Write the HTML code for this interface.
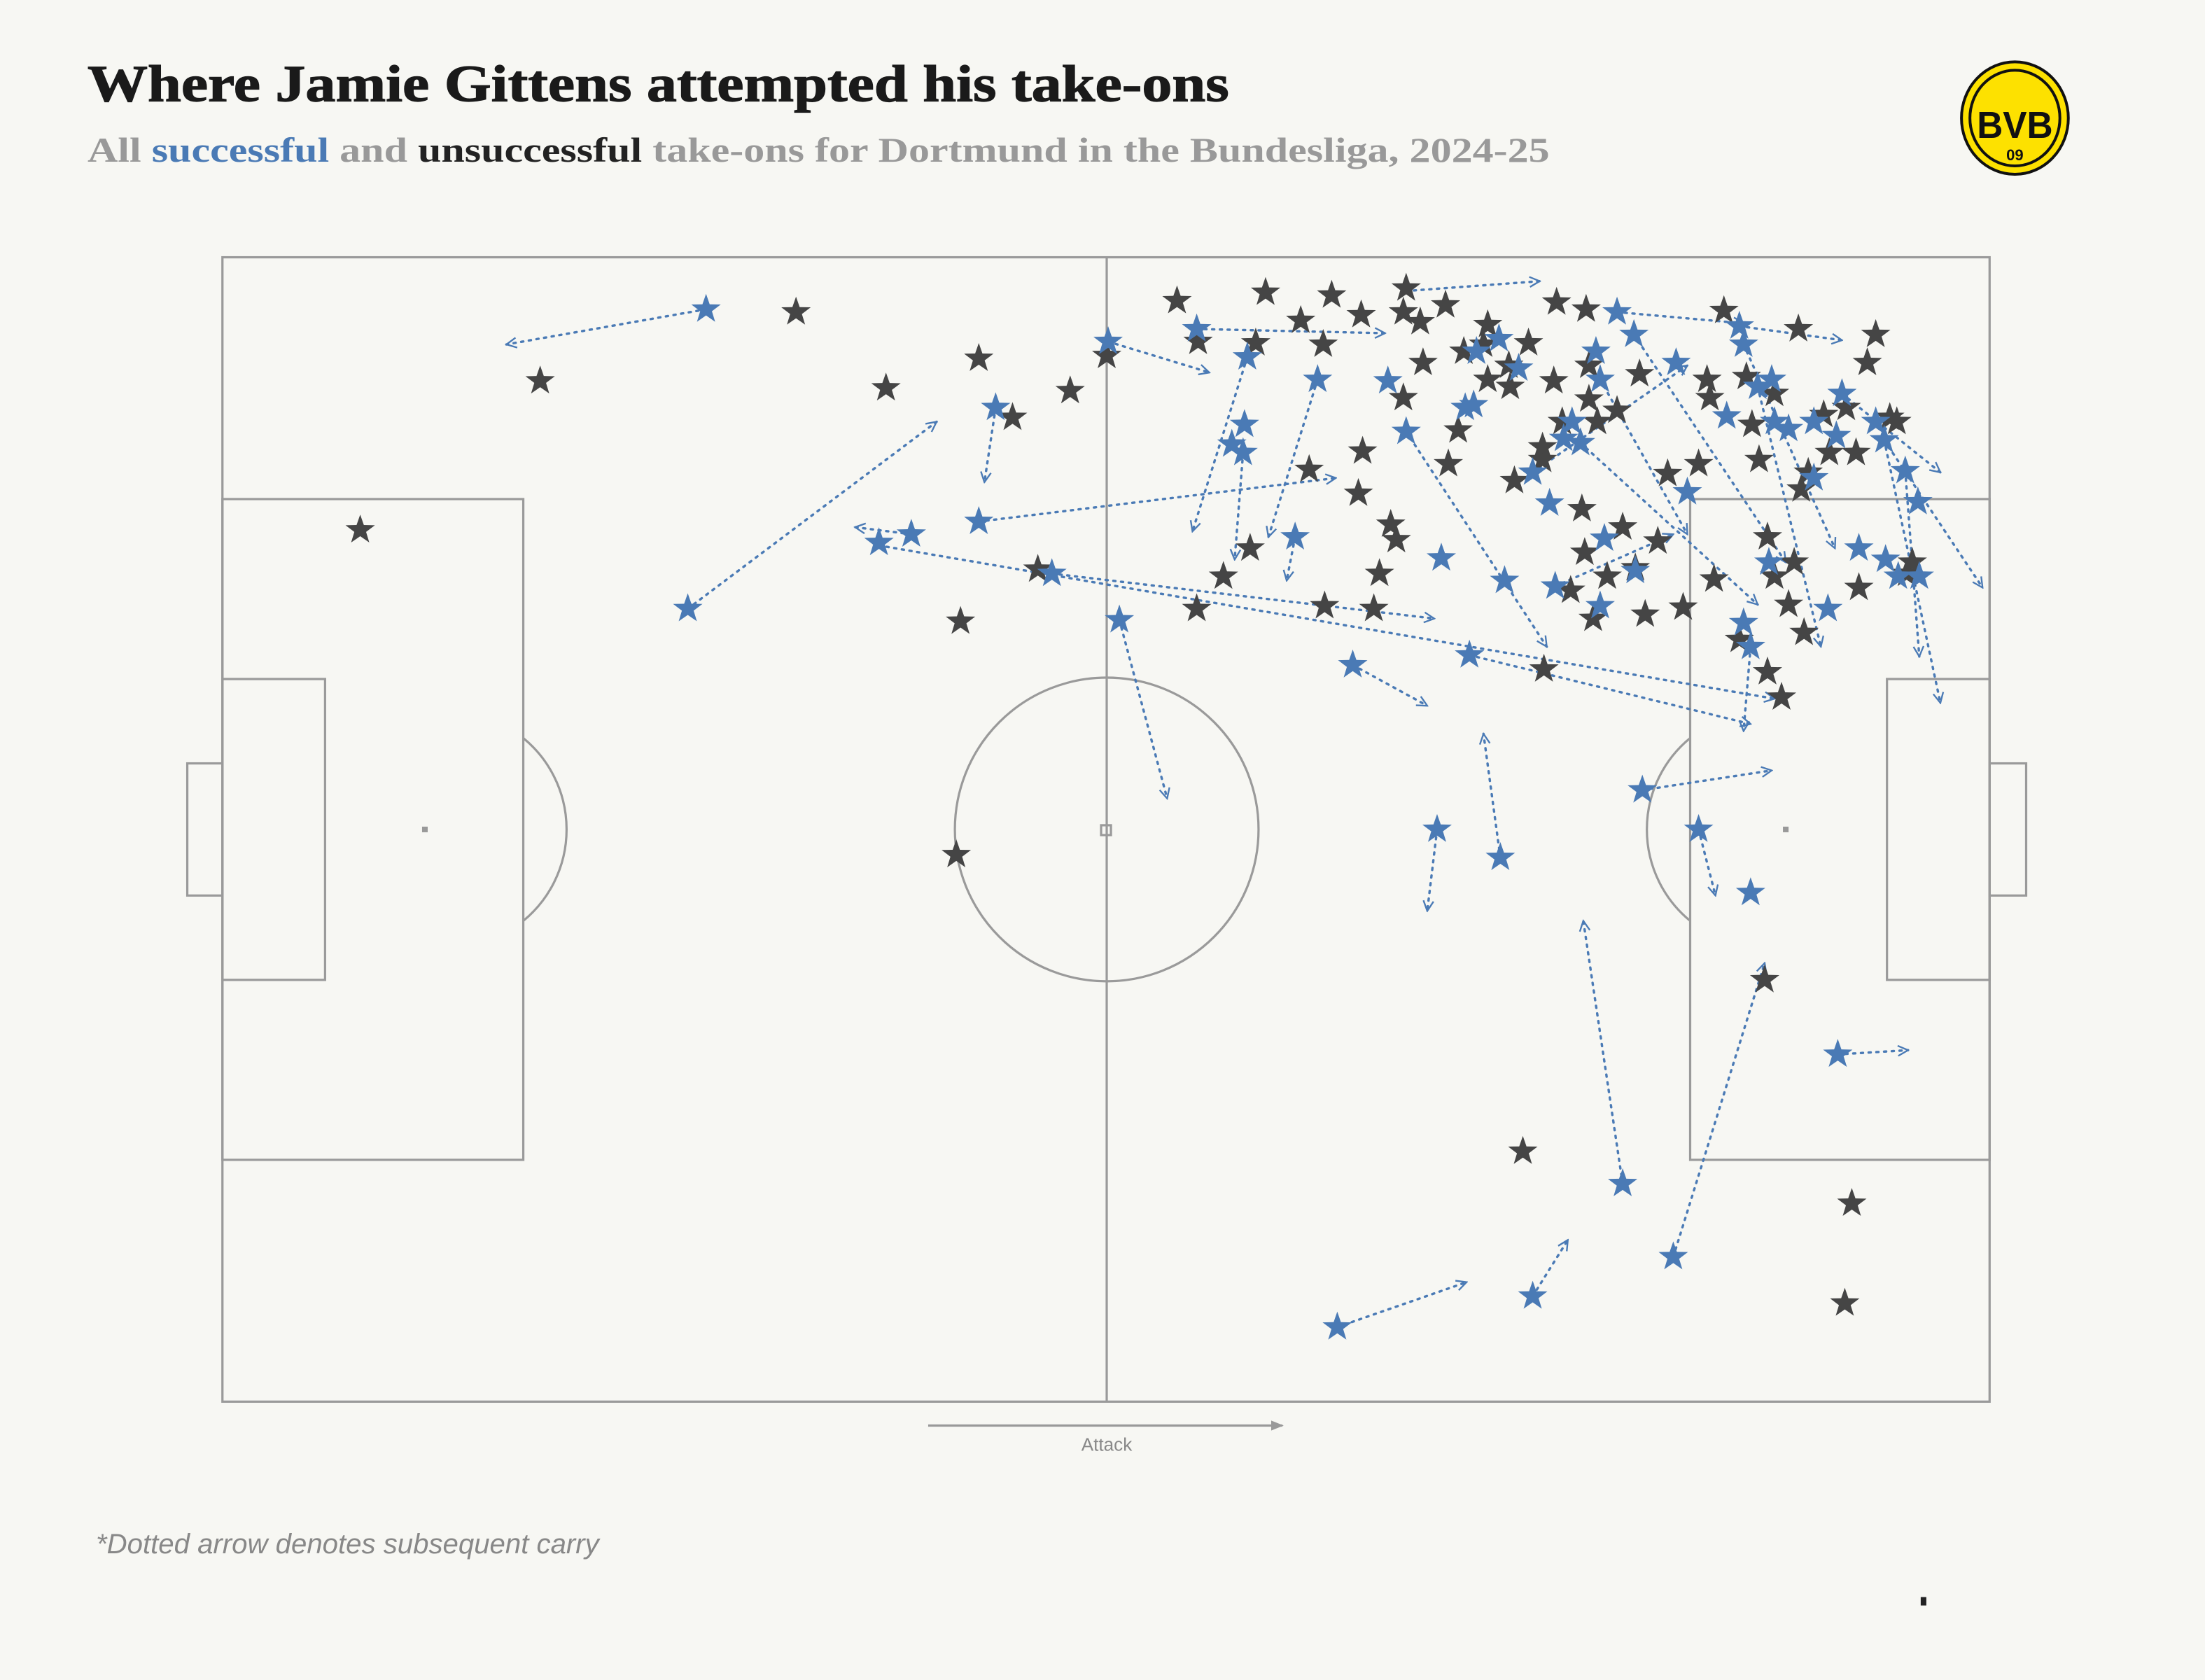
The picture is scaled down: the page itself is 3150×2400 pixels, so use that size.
<!DOCTYPE html>
<html><head><meta charset="utf-8">
<style>
html,body{margin:0;padding:0;background:#f7f7f3;}
svg{display:block;}
</style></head>
<body>
<svg id="s" width="3150" height="2400" viewBox="0 0 1568 1195" xmlns="http://www.w3.org/2000/svg">
<defs>
<path id="st" d="M0,-11 L2.59,-3.56 L10.46,-3.4 L4.18,1.36 L6.47,8.9 L0,4.4 L-6.47,8.9 L-4.18,1.36 L-10.46,-3.4 L-2.59,-3.56Z"/>
<marker id="ah" viewBox="0 0 10 10" refX="9" refY="5" markerWidth="9" markerHeight="9" markerUnits="userSpaceOnUse" orient="auto">
<path d="M1,1 L9,5 L1,9" fill="none" stroke="#4a7ab5" stroke-width="1.3"/>
</marker>
<marker id="ga" viewBox="0 0 10 10" refX="9" refY="5" markerWidth="9" markerHeight="9" markerUnits="userSpaceOnUse" orient="auto">
<path d="M0,1 L10,5 L0,9 Z" fill="#999"/>
</marker>
</defs>
<rect width="1568" height="1195" fill="#f7f7f3"/>
<text x="62" y="72" font-family="Liberation Serif, serif" font-weight="bold" font-size="37" fill="#1a1a1a" stroke="#1a1a1a" stroke-width="0.6" textLength="812" lengthAdjust="spacingAndGlyphs">Where Jamie Gittens attempted his take-ons</text>
<text x="62" y="115" font-family="Liberation Serif, serif" font-weight="bold" font-size="25" fill="#999" textLength="1040" lengthAdjust="spacingAndGlyphs">All <tspan fill="#4a7ab5">successful</tspan> and <tspan fill="#222">unsuccessful</tspan> take-ons for Dortmund in the Bundesliga, 2024-25</text>
<g>
<ellipse cx="1433" cy="84" rx="38" ry="40" fill="#fde100" stroke="#111" stroke-width="2"/>
<ellipse cx="1433" cy="84" rx="32" ry="34" fill="none" stroke="#111" stroke-width="2"/>
<text x="1433" y="98" text-anchor="middle" font-family="Liberation Sans, sans-serif" font-weight="bold" font-size="27" fill="#111" textLength="54" lengthAdjust="spacingAndGlyphs">BVB</text>
<text x="1433" y="114" text-anchor="middle" font-family="Liberation Sans, sans-serif" font-weight="bold" font-size="11" fill="#111">09</text>
</g>
<g fill="none" stroke="#9a9a9a" stroke-width="1.6">
<rect x="158" y="183" width="1257" height="814"/>
<line x1="787" y1="183" x2="787" y2="997"/>
<circle cx="787" cy="590" r="108"/>
<rect x="783" y="587" width="7" height="7"/>
<rect x="158" y="355" width="214" height="470"/>
<rect x="158" y="483" width="73" height="214"/>
<rect x="133" y="543" width="25" height="94"/>
<path d="M372,525 A84,84 0 0 1 372,655"/>
<rect x="1202" y="355" width="213" height="470"/>
<rect x="1342" y="483" width="73" height="214"/>
<rect x="1415" y="543" width="26" height="94"/>
<path d="M1202,525 A84,84 0 0 0 1202,655"/>
</g>
<rect x="300" y="588" width="4" height="4" fill="#999"/>
<rect x="1268" y="588" width="4" height="4" fill="#999"/>
<line x1="660" y1="1014" x2="912" y2="1014" stroke="#999" stroke-width="1.6" marker-end="url(#ga)"/>
<text x="787" y="1032" text-anchor="middle" font-family="Liberation Sans, sans-serif" font-size="13" fill="#888">Attack</text>
<text x="68" y="1105" font-family="Liberation Sans, sans-serif" font-style="italic" font-size="20" fill="#888">*Dotted arrow denotes subsequent carry</text>
<rect x="1366" y="1136" width="4" height="6" fill="#222"/>
<g id="arrows" fill="none" stroke="#4a7ab5" stroke-width="1.7" stroke-dasharray="1.5 4" stroke-linecap="round"></g>
<g id="dark" fill="#454545"></g>
<g id="blue" fill="#4a7ab5"></g>
</svg>
<script>
var NS="http://www.w3.org/2000/svg";
var dark=[[566,222],[384,271],[630,276],[696,255],[720,297],[761,278],[787,253],[256,377],[683,442],[680,608],[738,405],[851,433],[870,410],[889,390],[931,334],[966,351],[969,321],[942,431],[977,433],[981,408],[989,373],[993,384],[1030,330],[1037,306],[1077,342],[1097,327],[1098,476],[1083,819],[1317,856],[1312,927],[1255,697],[837,214],[900,208],[947,210],[968,224],[998,222],[1000,205],[1010,229],[1028,217],[1058,231],[1107,215],[1128,220],[1226,221],[1279,234],[1334,238],[1328,258],[925,228],[893,244],[852,243],[941,245],[1012,258],[1041,250],[998,283],[1058,270],[1074,275],[1087,244],[1105,271],[1130,284],[1130,260],[1166,266],[1214,270],[1242,268],[1216,283],[1246,302],[1262,280],[1297,295],[1313,290],[1344,297],[1349,300],[1301,322],[1320,322],[1286,336],[1251,327],[1208,330],[1186,337],[1281,348],[1125,362],[1154,375],[1179,385],[1127,393],[1143,410],[1163,404],[1219,412],[1197,432],[1170,437],[1133,440],[1117,420],[1257,382],[1276,400],[1262,410],[1272,430],[1283,450],[1237,455],[1257,478],[1267,496],[1322,418],[1360,400],[1356,408],[1097,318],[1111,300],[1136,300],[1150,292],[1073,260],[1055,245]];
var blue=[[502,220],[489,433],[625,386],[648,380],[696,371],[708,290],[748,408],[796,441],[788,243],[851,234],[887,254],[937,270],[885,302],[876,316],[884,322],[921,382],[962,473],[1025,397],[1045,466],[1070,413],[1022,590],[1067,610],[987,271],[1000,307],[1042,290],[1048,288],[1050,250],[1066,241],[1080,262],[1090,336],[1102,358],[1106,417],[1112,312],[1118,300],[1124,315],[1135,250],[1138,270],[1150,222],[1162,238],[1141,383],[1163,406],[1138,431],[1192,258],[1237,232],[1240,245],[1250,275],[1228,296],[1262,300],[1272,305],[1290,300],[1310,280],[1306,310],[1334,300],[1340,313],[1355,335],[1364,357],[1341,398],[1322,390],[1350,410],[1365,410],[1258,400],[1240,443],[1245,460],[1300,433],[1168,562],[1208,590],[1245,635],[1307,750],[1154,842],[1190,894],[1090,922],[951,944],[1260,270],[1290,340],[1200,350]];
var arr=[[502,220,360,245],[489,433,666,300],[648,380,608,375],[625,388,1262,497],[748,408,1020,440],[696,371,950,340],[708,290,700,343],[788,243,860,265],[796,441,830,568],[851,234,985,237],[887,254,848,378],[937,270,902,382],[884,322,878,398],[921,382,915,413],[962,473,1015,502],[1022,590,1015,648],[1067,610,1055,522],[1154,842,1126,655],[1190,894,1255,685],[1090,922,1115,882],[951,944,1043,912],[1168,562,1260,548],[1208,590,1220,637],[1307,750,1357,747],[1045,466,1245,515],[1000,307,1100,460],[1237,232,1310,242],[1000,207,1095,200],[1310,280,1380,336],[1340,313,1410,418],[1340,313,1380,500],[1355,335,1365,467],[1250,275,1295,460],[1240,245,1305,390],[1150,222,1240,230],[1138,270,1200,380],[1245,460,1240,520],[1106,417,1190,380],[1162,238,1270,400],[1124,315,1250,430],[1090,336,1200,260]];
var ga=document.getElementById("arrows"),gd=document.getElementById("dark"),gb=document.getElementById("blue");
arr.forEach(function(a){var l=document.createElementNS(NS,"line");l.setAttribute("x1",a[0]);l.setAttribute("y1",a[1]);l.setAttribute("x2",a[2]);l.setAttribute("y2",a[3]);l.setAttribute("marker-end","url(#ah)");ga.appendChild(l);});
function put(g,p){var u=document.createElementNS(NS,"use");u.setAttribute("href","#st");u.setAttributeNS("http://www.w3.org/1999/xlink","xlink:href","#st");u.setAttribute("x",p[0]);u.setAttribute("y",p[1]);g.appendChild(u);}
dark.forEach(function(p){put(gd,p);});
blue.forEach(function(p){put(gb,p);});
</script>
</body></html>
